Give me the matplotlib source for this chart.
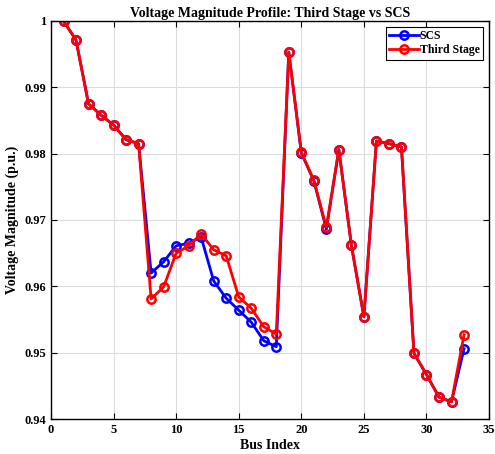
import matplotlib
matplotlib.use("Agg")
import matplotlib.pyplot as plt
from matplotlib.ticker import FuncFormatter

bus = list(range(1, 34))
scs = [1.0, 0.9971, 0.9875, 0.9858, 0.9843, 0.9821, 0.9815, 0.9620, 0.9637, 0.9661,
       0.9665, 0.9674, 0.9608, 0.9582, 0.9564, 0.9546, 0.9518, 0.9509, 0.9953, 0.9801,
       0.9759, 0.9686, 0.9806, 0.9662, 0.9554, 0.9819, 0.9815, 0.9810, 0.9499, 0.9467,
       0.9433, 0.9426, 0.9506]
third = [1.0, 0.9971, 0.9875, 0.9858, 0.9843, 0.9821, 0.9815, 0.9581, 0.9599, 0.9650,
         0.9661, 0.9679, 0.9655, 0.9646, 0.9584, 0.9567, 0.9539, 0.9528, 0.9953, 0.9802,
         0.9760, 0.9689, 0.9806, 0.9662, 0.9554, 0.9819, 0.9815, 0.9810, 0.9499, 0.9467,
         0.9433, 0.9426, 0.9527]

plt.rcParams['font.family'] = ['Liberation Serif', 'DejaVu Serif']
plt.rcParams['font.weight'] = 'bold'

fig = plt.figure(figsize=(4.95, 4.54), dpi=100)
ax = fig.add_axes([0.103, 0.077, 0.885, 0.877])

ax.plot(bus, scs, '-o', color='#0000ff', lw=2, ms=6, mfc='none', mew=1.8, label='SCS')
ax.plot(bus, third, '-o', color='#ff0000', lw=2, ms=6, mfc='none', mew=1.8, label='Third Stage')

ax.set_xlim(0, 35)
ax.set_ylim(0.94, 1.0)
ax.set_xticks(range(0, 36, 5))
ax.set_yticks([0.94, 0.95, 0.96, 0.97, 0.98, 0.99, 1.0])
ax.yaxis.set_major_formatter(FuncFormatter(lambda v, p: ('%g' % round(v, 2))))
ax.grid(True, color='#dcdcdc', lw=0.8)
ax.set_axisbelow(True)
ax.tick_params(direction='in', top=True, right=True, labelsize=9, length=4, width=0.8)
for lab in ax.get_xticklabels() + ax.get_yticklabels():
    lab.set_fontweight('bold')
for s in ax.spines.values():
    s.set_linewidth(1.0)

ax.set_title('Voltage Magnitude Profile: Third Stage vs SCS', fontsize=10, fontweight='bold', pad=3)
ax.set_xlabel('Bus Index', fontsize=10, fontweight='bold', labelpad=2)
ax.set_ylabel('Voltage Magnitude (p.u.)', fontsize=10, fontweight='bold', labelpad=4)

leg = ax.legend(loc='upper right', fontsize=8.5, frameon=True, fancybox=False,
                edgecolor='black', framealpha=1, borderpad=0.3, handlelength=2.5,
                labelspacing=0.15, handletextpad=0.1, borderaxespad=0.5)
leg.get_frame().set_linewidth(0.8)

fig.savefig('out.png', dpi=100)
